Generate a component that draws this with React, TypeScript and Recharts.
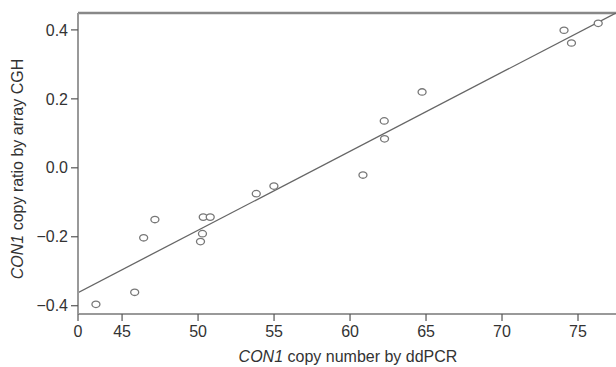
import React from 'react';
import {
  ComposedChart,
  Scatter,
  Line,
  XAxis,
  YAxis,
  ReferenceLine,
} from 'recharts';

// ddPCR copy number (x) vs array CGH copy ratio (y)
const ddpcr = [43.28, 45.83, 46.42, 47.16, 50.34, 50.8, 50.29, 50.16, 53.83, 54.99, 60.85, 62.27, 62.25, 64.74, 74.08, 74.57, 76.33];
const cgh = [-0.396, -0.361, -0.203, -0.15, -0.143, -0.143, -0.191, -0.214, -0.075, -0.053, -0.021, 0.084, 0.136, 0.22, 0.399, 0.362, 0.419];

// fitted line end points
const fitX = [42.1, 77.5];
const fitY = [-0.362, 0.449];

const xTicks = [42.1, 45, 50, 55, 60, 65, 70, 75];
const xTickLabels = ['0', '45', '50', '55', '60', '65', '70', '75'];
const yTicks = [-0.4, -0.2, 0, 0.2, 0.4];
const xDomain = [42.1, 77.5];
const yDomain = [-0.424, 0.449];

const points = ddpcr.map((x, i) => ({ x, y: cgh[i] }));
const fit = fitX.map((x, i) => ({ x, fy: fitY[i] }));

const FONT = '"Liberation Sans", Arial, Helvetica, sans-serif';

const Ring = (props: any) => {
  const { cx, cy } = props;
  if (cx == null || cy == null) return null;
  return <ellipse cx={cx} cy={cy} rx={4} ry={3.2} fill="#fff" stroke="#777" strokeWidth={1.3} />;
};

export default function App() {
  return (
    <div style={{ width: 616, height: 367, background: '#fff' }}>
      <style>{`body{margin:0}`}</style>
      <ComposedChart
        width={616}
        height={367}
        margin={{ top: 13, right: 0, bottom: 0, left: 0 }}
        style={{ fontFamily: FONT }}
      >
        <XAxis
          type="number"
          dataKey="x"
          domain={xDomain}
          ticks={xTicks}
          allowDataOverflow
          tickFormatter={(v: number) => xTickLabels[xTicks.indexOf(v)] ?? String(v)}
          height={53}
          tickSize={7}
          tickMargin={5}
          stroke="#999"
          strokeWidth={2}
          tick={{ fill: '#333', fontSize: 16 }}
          tickLine={{ stroke: '#555', strokeWidth: 1.2 }}
        />
        <YAxis
          type="number"
          domain={yDomain}
          ticks={yTicks}
          allowDataOverflow
          tickFormatter={(v: number) => (v < 0 ? '\u2212' + Math.abs(v).toFixed(1) : v.toFixed(1))}
          width={78}
          tickSize={7}
          tickMargin={3}
          stroke="#999"
          strokeWidth={2}
          tick={{ fill: '#333', fontSize: 16 }}
          tickLine={{ stroke: '#555', strokeWidth: 1.2 }}
        />
        <ReferenceLine y={yDomain[1]} stroke="#888" strokeWidth={2.5} />
        <Line
          data={fit}
          dataKey="fy"
          stroke="#666"
          strokeWidth={1.3}
          dot={false}
          isAnimationActive={false}
        />
        <Scatter data={points} dataKey="y" shape={<Ring />} isAnimationActive={false} />
        <text x={348} y={362} textAnchor="middle" fill="#333" fontSize={16} fontFamily={FONT}>
          <tspan fontStyle="italic">CON1</tspan> copy number by ddPCR
        </text>
        <text
          x={23}
          y={169}
          textAnchor="middle"
          fill="#333"
          fontSize={16}
          fontFamily={FONT}
          transform="rotate(-90 23 169)"
        >
          <tspan fontStyle="italic">CON1</tspan> copy ratio by array CGH
        </text>
      </ComposedChart>
    </div>
  );
}
